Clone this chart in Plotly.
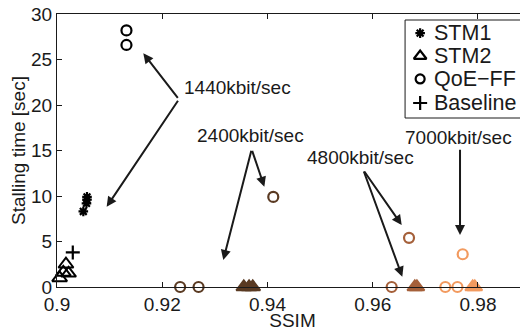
import plotly.graph_objects as go

# ---- data ----
bitrates = ["1440kbit/sec", "2400kbit/sec", "4800kbit/sec", "7000kbit/sec"]
bitrate_colors = ["#000000", "#5a3a22", "#a5603a", "#f29a5f"]

stm1_ssim = [[0.9050, 0.9056, 0.9057, 0.9057], [], [], []]
stm1_stall = [[8.3, 9.2, 9.6, 9.9], [], [], []]

stm2_ssim = [[0.9005, 0.9012, 0.9022, 0.9017],
             [0.9355, 0.9365, 0.9372],
             [0.9680, 0.9684],
             [0.9790, 0.9794]]
stm2_stall = [[1.0, 1.6, 1.5, 2.5],
              [0.0, 0.0, 0.0],
              [0.0, 0.0],
              [0.0, 0.0]]

qoe_ssim = [[0.9132, 0.9132],
            [0.9234, 0.9269, 0.9411],
            [0.9636, 0.9669],
            [0.9738, 0.9761, 0.9771]]
qoe_stall = [[28.2, 26.6],
             [0.0, 0.0, 9.9],
             [0.0, 5.4],
             [0.0, 0.0, 3.6]]

base_ssim = [[0.9030], [], [], []]
base_stall = [[3.8], [], [], []]

legend_names = ["STM1", "STM2", "QoE\u2212FF", "Baseline"]

x_ticks = [0.90, 0.92, 0.94, 0.96, 0.98]
x_tick_labels = ["0.9", "0.92", "0.94", "0.96", "0.98"]
y_ticks = [0, 5, 10, 15, 20, 25, 30]

FONT = "Liberation Sans, Arial, Helvetica, sans-serif"
FS = 19
INK = "#1a1a1a"

fig = go.Figure()

for i, col in enumerate(bitrate_colors):
    filled = i > 0
    if stm1_ssim[i]:
        fig.add_trace(go.Scatter(x=stm1_ssim[i], y=stm1_stall[i], mode="markers",
                                 marker=dict(symbol="asterisk-open", size=8, color=col,
                                             line=dict(color=col, width=2.2)),
                                 showlegend=False, cliponaxis=False))
    if stm2_ssim[i]:
        fig.add_trace(go.Scatter(x=stm2_ssim[i], y=stm2_stall[i], mode="markers",
                                 marker=dict(symbol="triangle-up" if filled else "triangle-up-open",
                                             size=13, color=col,
                                             line=dict(color=col, width=2)),
                                 showlegend=False, cliponaxis=False))
    if qoe_ssim[i]:
        fig.add_trace(go.Scatter(x=qoe_ssim[i], y=qoe_stall[i], mode="markers",
                                 marker=dict(symbol="circle-open", size=10, color=col,
                                             line=dict(color=col, width=2.2)),
                                 showlegend=False, cliponaxis=False))
    if base_ssim[i]:
        fig.add_trace(go.Scatter(x=base_ssim[i], y=base_stall[i], mode="markers",
                                 marker=dict(symbol="cross-thin-open", size=10, color=col,
                                             line=dict(color=col, width=2.2)),
                                 showlegend=False, cliponaxis=False))

# ---- legend box drawn on an overlay axis spanning the plot area (0..1) ----
leg_x0, leg_x1, leg_y0, leg_y1 = 0.739, 0.998, 0.619, 0.978
leg_rows = [0.930, 0.846, 0.762, 0.674]
leg_syms = [("asterisk-open", 8), ("triangle-up-open", 11), ("circle-open", 9), ("cross-thin-open", 10)]
for (sym, sz), yy in zip(leg_syms, leg_rows):
    fig.add_trace(go.Scatter(x=[0.771], y=[yy], xaxis="x2", yaxis="y2", mode="markers",
                             marker=dict(symbol=sym, size=sz, color="black",
                                         line=dict(color="black", width=2.2)),
                             showlegend=False, cliponaxis=False, hoverinfo="skip"))

shapes = [dict(type="rect", xref="paper", yref="paper", x0=leg_x0, x1=leg_x1,
               y0=leg_y0, y1=leg_y1, line=dict(color=INK, width=1),
               fillcolor="white", layer="below")]

annotations = []
for name, yy in zip(legend_names, leg_rows):
    annotations.append(dict(x=0.797, y=yy, xref="paper", yref="paper", text=name,
                            showarrow=False, xanchor="left", yanchor="middle",
                            font=dict(family=FONT, size=21.5, color=INK)))

# arrows: (tail x, tail y, head x, head y)
arrows = [
    (0.92318, 20.63, 0.9164, 25.68),
    (0.92318, 20.63, 0.90944, 8.82),
    (0.93700, 15.13, 0.93940, 11.02),
    (0.93700, 15.13, 0.93160, 2.97),
    (0.95821, 12.86, 0.96551, 6.81),
    (0.95821, 12.86, 0.96562, 1.13),
    (0.97659, 15.24, 0.97659, 5.71),
]
for tx, ty, hx, hy in arrows:
    annotations.append(dict(x=hx, y=hy, ax=tx, ay=ty, xref="x", yref="y",
                            axref="x", ayref="y", text="", showarrow=True,
                            arrowhead=2, arrowsize=1, arrowwidth=2,
                            arrowcolor=INK, standoff=0, startstandoff=0))

label_pos = [(0.9237, 21.9), (0.9262, 16.6), (0.9471, 14.2), (0.9658, 16.4)]
for (lx, ly), txt in zip(label_pos, bitrates):
    annotations.append(dict(x=lx, y=ly, xref="x", yref="y", text=txt,
                            showarrow=False, xanchor="left", yanchor="middle",
                            font=dict(family=FONT, size=FS, color=INK)))

# The page body adds an 8px offset, so the figure is 8px smaller on each axis
fig.update_layout(
    width=520, height=323,
    margin=dict(l=49, r=0, t=6, b=44),
    paper_bgcolor="white", plot_bgcolor="white",
    font=dict(family=FONT, size=FS, color=INK),
    showlegend=False,
    shapes=shapes,
    annotations=annotations,
    xaxis=dict(range=[0.9, 0.98951], tickvals=x_ticks, ticktext=x_tick_labels,
               ticks="inside", ticklen=5, tickcolor=INK, automargin=False,
               ticklabelstandoff=0, ticklabeloverflow="allow",
               showline=True, linecolor=INK, linewidth=1, mirror="ticks",
               showgrid=False, zeroline=False,
               title=dict(text="SSIM", standoff=0, font=dict(size=FS))),
    yaxis=dict(range=[0, 30], tickvals=y_ticks, automargin=False,
               ticks="inside", ticklen=5, tickcolor=INK, ticklabelstandoff=0,
               ticklabeloverflow="allow",
               showline=True, linecolor=INK, linewidth=1, mirror="ticks",
               showgrid=False, zeroline=False,
               title=dict(text="Stalling time [sec]", standoff=0, font=dict(size=FS))),
    xaxis2=dict(overlaying="x", range=[0, 1], visible=False, fixedrange=True),
    yaxis2=dict(overlaying="y", range=[0, 1], visible=False, fixedrange=True),
)

fig.write_html("out.html")
